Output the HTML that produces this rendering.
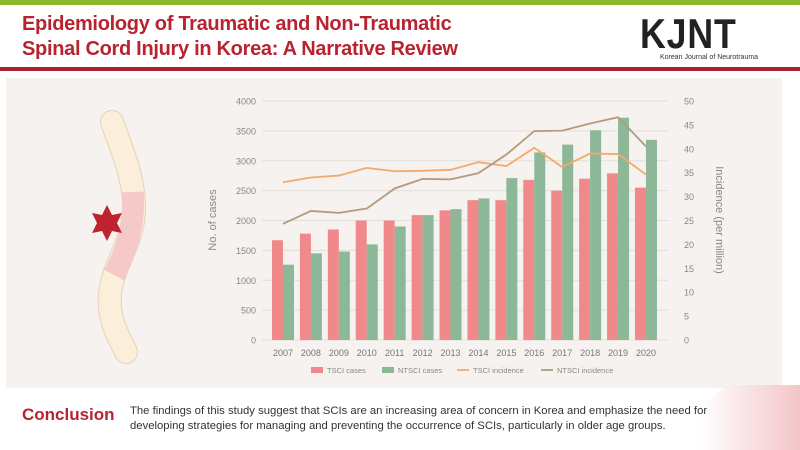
<!DOCTYPE html>
<html><head><meta charset="utf-8"><style>
body{margin:0;width:800px;height:450px;overflow:hidden;background:#fff;font-family:"Liberation Sans",sans-serif;position:relative}
.abs{position:absolute}
</style></head><body>
<div class="abs" style="left:0;top:0;width:800px;height:5px;background:#8ab92d"></div>
<div class="abs" style="left:22px;top:12px;color:#b8232f;font-weight:bold;font-size:20px;line-height:25px;letter-spacing:-0.3px">Epidemiology of Traumatic and Non-Traumatic<br>Spinal Cord Injury in Korea: A Narrative Review</div>
<div class="abs" style="left:640px;top:10px;font-size:42px;font-weight:bold;color:#222;letter-spacing:1px;transform:scaleX(0.85);transform-origin:left;line-height:48px">KJNT</div>
<div class="abs" style="left:660px;top:54px;font-size:7px;color:#333">Korean Journal of Neurotrauma</div>
<div class="abs" style="left:0;top:67px;width:800px;height:4px;background:#a8212c"></div>
<div class="abs" style="left:6px;top:78px;width:776px;height:310px;background:#f6f2ef"></div>
<svg class="abs" style="left:0;top:0" width="200" height="400">
<path d="M112,122 C122,150 135,180 134,210 C133,245 112,265 110,295 C108,320 118,335 126,352" fill="none" stroke="#e6d2b5" stroke-width="24" stroke-linecap="round"/>
<path d="M112,122 C122,150 135,180 134,210 C133,245 112,265 110,295 C108,320 118,335 126,352" fill="none" stroke="#fbeedb" stroke-width="22" stroke-linecap="round"/>
<path d="M133,192 C134,220 130,245 114,275" fill="none" stroke="#f6c9c9" stroke-width="22"/>
<polygon points="107,205 112,215 122,213 117,223 122,233 112,231 107,241 102,231 92,233 97,223 92,213 102,215" fill="#c0222e"/>
</svg>
<svg class="abs" id="chart" style="left:0;top:0" width="800" height="450"></svg>
<div class="abs" style="left:700px;top:385px;width:100px;height:65px;background:linear-gradient(90deg,#fff,#f3c5c8);border-radius:40px 0 0 0"></div>
<div class="abs" style="left:22px;top:405px;color:#b8232f;font-weight:bold;font-size:17px">Conclusion</div>
<div class="abs" style="left:130px;top:404px;color:#333;font-size:11.3px;line-height:15px;width:620px">The findings of this study suggest that SCIs are an increasing area of concern in Korea and emphasize the need for developing strategies for managing and preventing the occurrence of SCIs, particularly in older age groups.</div>
<script>
const years=["2007","2008","2009","2010","2011","2012","2013","2014","2015","2016","2017","2018","2019","2020"];
const tsciCases=[1670,1780,1850,2000,2000,2090,2170,2340,2340,2680,2500,2700,2790,2550];
const ntsciCases=[1260,1450,1480,1600,1900,2090,2190,2370,2710,3140,3270,3510,3720,3350];
const tsciInc=[33,34,34.4,36,35.3,35.4,35.6,37.2,36.4,40.2,36.2,39,38.9,34.6];
const ntsciInc=[24.3,27,26.6,27.5,31.7,33.7,33.6,34.9,38.8,43.7,43.8,45.3,46.6,40.5];
const leftTicks=[0,500,1000,1500,2000,2500,3000,3500,4000];
const rightTicks=[0,5,10,15,20,25,30,35,40,45,50];
const svg=document.getElementById('chart');const NS='http://www.w3.org/2000/svg';
const yL=v=>340-v*239/4000, yR=v=>340-v*239/50, xC=i=>283+i*27.92;
function mk(t,a,txt){const e=document.createElementNS(NS,t);for(const k in a)e.setAttribute(k,a[k]);if(txt!=null)e.textContent=txt;svg.appendChild(e);return e;}
leftTicks.forEach(v=>{
 const l=mk('line',{x1:262,x2:668,y1:yL(v),y2:yL(v),stroke:'#e2deda','stroke-width':1});
 
 
 const t=mk('text',{x:256,y:yL(v)+3.5,'text-anchor':'end','font-size':9,fill:'#888'},v);
 
 
});
rightTicks.forEach(v=>{
 const t=mk('text',{x:684,y:yR(v)+3.5,'font-size':9,fill:'#888'},v);
 
 
});
years.forEach((y,i)=>{
 const a=mk('rect',{x:xC(i)-11,y:yL(tsciCases[i]),width:11,height:340-yL(tsciCases[i]),fill:'#f08a8a'});
 
 
 const b=mk('rect',{x:xC(i),y:yL(ntsciCases[i]),width:11,height:340-yL(ntsciCases[i]),fill:'#8cb898'});
 
 
 const t=mk('text',{x:xC(i),y:356,'text-anchor':'middle','font-size':9,fill:'#777'},y);
 
 
});
const l1=mk('polyline',{points:tsciInc.map((v,i)=>xC(i)+','+yR(v)).join(' '),fill:'none',stroke:'#f7a86a','stroke-width':1.8});


const l2=mk('polyline',{points:ntsciInc.map((v,i)=>xC(i)+','+yR(v)).join(' '),fill:'none',stroke:'#b49a7e','stroke-width':1.8});


const yt=mk('text',{x:0,y:0,'font-size':11,fill:'#888','text-anchor':'middle',transform:'translate(216,220) rotate(-90)'},'No. of cases');


const yt2=mk('text',{x:0,y:0,'font-size':11,fill:'#888','text-anchor':'middle',transform:'translate(716,220) rotate(90)'},'Incidence (per million)');


const leg=[['TSCI cases','#f08a8a','rect',311],['NTSCI cases','#8cb898','rect',382],['TSCI incidence','#f7a86a','line',457],['NTSCI incidence','#b49a7e','line',541]];
leg.forEach(d=>{
 const s=d[2]=='rect'?mk('rect',{x:d[3],y:367,width:12,height:6,fill:d[1]}):mk('line',{x1:d[3],x2:d[3]+12,y1:370,y2:370,stroke:d[1],'stroke-width':1.8});
 
 
 const t=mk('text',{x:d[3]+16,y:373,'font-size':7.5,fill:'#888'},d[0]);
 
 
});
</script>
</body></html>
